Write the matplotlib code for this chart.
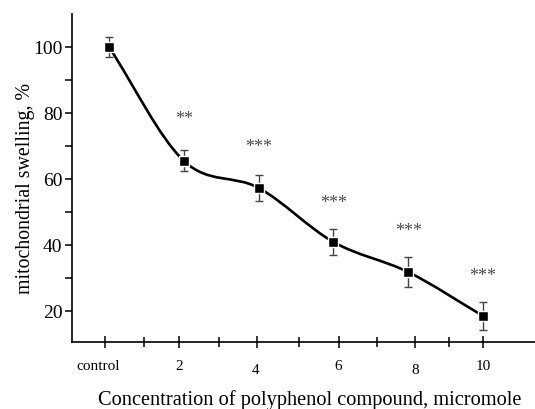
import numpy as np
import matplotlib
matplotlib.use("Agg")
import matplotlib.pyplot as plt
from matplotlib.path import Path
from matplotlib.patches import PathPatch
from matplotlib.transforms import ScaledTranslation

# data
categories = ['control', '2', '4', '6', '8', '10']
x_pos = [0, 1, 2, 3, 4, 5]
swelling = [100.0, 65.5, 57.3, 40.9, 31.8, 18.5]
errors = [3.0, 3.2, 4.0, 3.8, 4.5, 4.2]
stars = ['', '**', '***', '***', '***', '***']
star_y = [None, 79.4, 71.0, 54.0, 45.7, 32.0]

# tick marks are a little off the points in the original
major_ticks = [-0.05, 0.94, 1.98, 3.07, 4.09, 5.0]
minor_ticks = [0.47, 1.47, 2.54, 3.58, 4.55]

plt.rcParams['font.family'] = ['Liberation Serif', 'DejaVu Serif']

fig = plt.figure(figsize=(5.35, 4.1), dpi=100)
ax = fig.add_axes([72 / 535, 67 / 410, 463 / 535, 328 / 410])

# smooth connecting line (Catmull-Rom as cubic bezier path)
P = np.column_stack([x_pos, swelling]).astype(float)
n = len(P)
m = np.zeros_like(P)
m[0] = P[1] - P[0]
m[-1] = P[-1] - P[-2]
for i in range(1, n - 1):
    m[i] = (P[i + 1] - P[i - 1]) / 2
verts = [P[0]]
codes = [Path.MOVETO]
for i in range(n - 1):
    verts += [P[i] + m[i] / 3, P[i + 1] - m[i + 1] / 3, P[i + 1]]
    codes += [Path.CURVE4] * 3
ax.add_patch(PathPatch(Path(verts, codes), facecolor='none', edgecolor='black',
                       lw=1.9, zorder=3))

ax.errorbar(x_pos, swelling, yerr=errors, fmt='none', ecolor='#444444',
            elinewidth=1.0, capsize=3, capthick=1.0, zorder=2)
ax.plot(x_pos, swelling, 's', color='black', ms=6.5, mec='white', mew=1.0, zorder=4)

# asterisks: glyph sits high in the text box, nudge down a few px
star_off = ax.transData + ScaledTranslation(0, -4 / 100, fig.dpi_scale_trans)
for x, s, y in zip(x_pos, stars, star_y):
    if s:
        ax.text(x, y, s, ha='center', va='center', fontsize=13, color='#4a4a4a',
                transform=star_off)

ax.set_xlim(-0.495, 5.695)
ax.set_ylim(10.6, 110)

ax.spines['top'].set_visible(False)
ax.spines['right'].set_visible(False)
for sp in ['left', 'bottom']:
    ax.spines[sp].set_linewidth(1.2)

ax.set_yticks([20, 40, 60, 80, 100])
ax.set_yticks([30, 50, 70, 90], minor=True)
ax.tick_params(axis='y', which='major', direction='out', length=5, width=1.1,
               labelsize=14, pad=2)
ax.tick_params(axis='y', which='minor', direction='out', length=5, width=1.1)

ax.set_xticks(major_ticks)
ax.set_xticklabels(categories)
ax.set_xticks(minor_ticks, minor=True)
ax.tick_params(axis='x', which='major', direction='inout', length=9, width=1.1,
               labelsize=11, pad=8)
ax.tick_params(axis='x', which='minor', direction='inout', length=7, width=1.1)

# small shifts of some x labels, as in the original
shifts = {'control': (-7, 0), '4': (-2, -4), '8': (0, -4)}
for lab in ax.get_xticklabels():
    dx, dy = shifts.get(lab.get_text(), (0, 0))
    if dx or dy:
        lab.set_transform(lab.get_transform() + ScaledTranslation(dx / 100, dy / 100, fig.dpi_scale_trans))

fig.text(26 / 535, 1 - 188 / 410, 'mitochondrial swelling, %', rotation=90,
         ha='center', va='center', fontsize=14.3)
fig.text(310 / 535, 1 - 400 / 410, 'Concentration of polyphenol compound, micromole',
         ha='center', va='center', fontsize=14.7)

fig.savefig('out.png', dpi=100)
